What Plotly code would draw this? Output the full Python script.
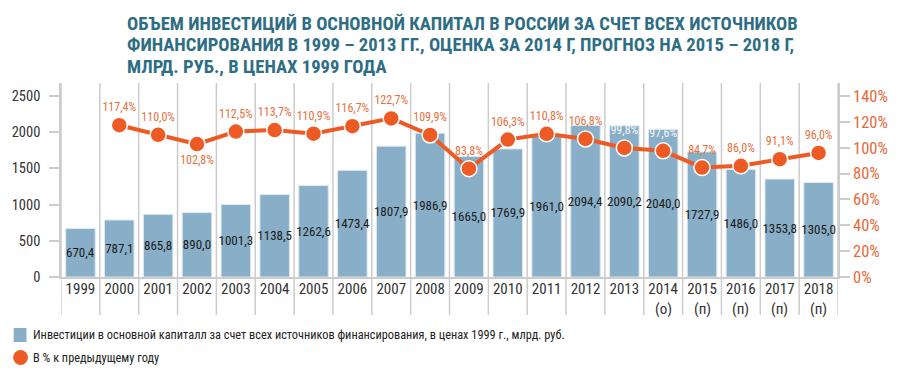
import plotly.graph_objects as go

years = [str(y) for y in range(1999, 2019)]
suffix = ["", "", "", "", "", "", "", "", "", "", "", "", "", "", "", "(о)", "(п)", "(п)", "(п)", "(п)"]
invest = [670.4, 787.1, 865.8, 890.0, 1001.3, 1138.5, 1262.6, 1473.4, 1807.9, 1986.9,
          1665.0, 1769.9, 1961.0, 2094.4, 2090.2, 2040.0, 1727.9, 1486.0, 1353.8, 1305.0]
pct_years = years[1:]
pct = [117.4, 110.0, 102.8, 112.5, 113.7, 110.9, 116.7, 122.7, 109.9, 83.8,
       106.3, 110.8, 106.8, 99.8, 97.6, 84.7, 86.0, 91.1, 96.0]
left_ticks = [0, 500, 1000, 1500, 2000, 2500]
right_ticks = [0, 20, 40, 60, 80, 100, 120, 140]
title_lines = [
    "ОБЪЕМ ИНВЕСТИЦИЙ В ОСНОВНОЙ КАПИТАЛ В РОССИИ ЗА СЧЕТ ВСЕХ ИСТОЧНИКОВ",
    "ФИНАНСИРОВАНИЯ В 1999 – 2013 ГГ., ОЦЕНКА ЗА 2014 Г, ПРОГНОЗ НА 2015 – 2018 Г,",
    "МЛРД. РУБ., В ЦЕНАХ 1999 ГОДА",
]
bar_name = "Инвестиции в основной капиталл за счет всех источников финансирования, в ценах 1999 г., млрд. руб."
line_name = "В % к предыдущему году"

fmt = lambda v: f"{v:.1f}".replace(".", ",")
BAR = "#88AFC7"
ORANGE = "#EE5A24"
LABEL_OR = "#E8703D"
GRID = "#cccccc"
NARROW = "Liberation Sans Narrow, Arial Narrow, Roboto Condensed, sans-serif"
PLOT_H = 194.0
PLOT_W = 788.0
TOP = 83.0
LEFT = 55.0


def py(px):
    """pixel y from top of figure -> paper coordinate"""
    return 1 + (TOP - px) / PLOT_H


def px_(x):
    """pixel x from left of figure -> paper coordinate"""
    return (x - LEFT) / PLOT_W


fig = go.Figure()
fig.add_trace(go.Bar(
    x=years, y=invest, name=bar_name,
    marker=dict(color=BAR, line=dict(color="#dfe9ef", width=1)),
    width=0.76,
    text=[fmt(v) for v in invest], textposition="inside", insidetextanchor="middle",
    textangle=0, constraintext="none",
    textfont=dict(family=NARROW, size=13, color="#1a1a1a"),
    yaxis="y", showlegend=False,
))

pos = ["bottom center" if p == 102.8 else "top center" for p in pct]
tcol = ["#f4f7f9" if y in ("2013", "2014") else LABEL_OR for y in pct_years]
fig.add_trace(go.Scatter(
    x=pct_years, y=pct, mode="lines+markers+text", yaxis="y2", name=line_name,
    line=dict(color=ORANGE, width=4),
    marker=dict(color=ORANGE, size=16, line=dict(color="white", width=1.5)),
    text=[fmt(v) + "%" for v in pct], textposition=pos,
    textfont=dict(family=NARROW, size=12, color=tcol),
    showlegend=False, cliponaxis=False,
))

# category separators
shapes = []
for i in range(len(years) + 1):
    shapes.append(dict(type="line", xref="x", yref="paper", x0=i - 0.5, x1=i - 0.5,
                       y0=py(315), y1=1, line=dict(color=GRID, width=1.5), layer="below"))
# legend symbols (manual legend)
shapes.append(dict(type="rect", xref="paper", yref="paper", x0=px_(7), x1=px_(20),
                   y0=py(342), y1=py(328), fillcolor=BAR, line=dict(width=0)))
shapes.append(dict(type="circle", xref="paper", yref="paper", x0=px_(6.5), x1=px_(21.5),
                   y0=py(365), y1=py(350), fillcolor=ORANGE, line=dict(width=0)))
fig.update_layout(shapes=shapes)

ann = []
for i, s in enumerate(suffix):
    if s:
        ann.append(dict(x=i, xref="x", y=py(309), yref="paper", text=s, showarrow=False,
                        font=dict(family=NARROW, size=15, color="#333333"),
                        yanchor="middle"))
for k, line in enumerate(title_lines):
    ann.append(dict(x=px_(120), xref="paper", y=py(24 + 21.3 * k), yref="paper",
                    xanchor="left", yanchor="middle", align="left", showarrow=False,
                    text="<b>" + line + "</b>",
                    font=dict(family=NARROW, size=18.6, color="#2E6E84")))
for name, yc in ((bar_name, 335), (line_name, 357.5)):
    ann.append(dict(x=px_(25), xref="paper", y=py(yc), yref="paper", xanchor="left",
                    yanchor="middle", showarrow=False, text=name,
                    font=dict(family=NARROW, size=12.3, color="#222222")))
fig.update_layout(annotations=ann)

fig.update_layout(
    width=900, height=375,
    margin=dict(l=55, r=57, t=83, b=98),
    paper_bgcolor="white", plot_bgcolor="white",
    showlegend=False,
    xaxis=dict(type="category", showgrid=False, showline=True, linecolor=GRID, linewidth=1.5,
               ticks="", ticklabelstandoff=-3,
               tickfont=dict(family=NARROW, size=15, color="#333333"),
               range=[-0.5, len(years) - 0.5]),
    yaxis=dict(range=[0, 2680], tickvals=left_ticks, showgrid=False, zeroline=False,
               showline=True, linecolor=GRID, linewidth=1.5, ticks="outside", ticklen=10,
               tickcolor=GRID, tickwidth=1.5, ticklabelstandoff=6,
               tickfont=dict(family=NARROW, size=14.5, color="#333333")),
    yaxis2=dict(range=[0, 2680 / 2500 * 140], tickvals=right_ticks,
                ticktext=[f"{t}%" for t in right_ticks], overlaying="y",
                side="right", showgrid=False, zeroline=False, showline=True, linecolor=GRID,
                linewidth=1.5, ticks="outside", ticklen=10, tickcolor=GRID, tickwidth=1.5,
                tickfont=dict(family=NARROW, size=16.5, color="#E8693A")),
)

fig.write_html("out.html", config={"displayModeBar": False},
               post_script="document.body.style.margin='0';")
